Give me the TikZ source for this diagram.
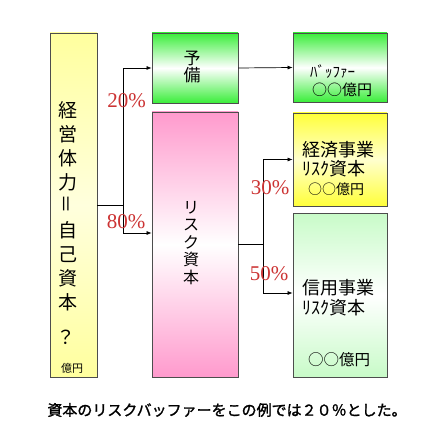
\documentclass[tikz,border=0pt]{standalone}
\usepackage{fontspec}
\usepackage{graphicx}
\usepackage{xcolor}
\usepackage{tikz}
\usetikzlibrary{arrows.meta}
\setmainfont{Liberation Serif}
\newfontfamily\jpfont{Noto Sans CJK JP}
\newfontfamily\jpcapfont[FakeBold=1.5]{Noto Sans CJK JP}
\definecolor{boxline}{HTML}{4D4D4D}
\definecolor{pctred}{HTML}{CC3333}
\definecolor{greentop}{HTML}{3AEE3A}
\definecolor{pinktop}{HTML}{FF9ACD}
\definecolor{yellowtop}{HTML}{FFFF3A}
\definecolor{paleyellow}{HTML}{FFFF9E}
\definecolor{palegreen}{HTML}{C8FBC8}

\tikzset{
  panel/.style={draw=boxline, line width=0.8pt, rectangle, inner sep=0pt},
  capitalfill/.style={top color=paleyellow, bottom color=paleyellow, middle color=paleyellow!35},
  greenfill/.style={top color=greentop, bottom color=greentop, middle color=white},
  pinkfill/.style={top color=pinktop, bottom color=pinktop, middle color=white},
  yellowfill/.style={top color=yellowtop, bottom color=yellowtop, middle color=yellowtop!25},
  lightgreenfill/.style={top color=palegreen, bottom color=palegreen, middle color=white},
  jp/.style={font=\jpfont\fontsize{#1}{#1}\selectfont, inner sep=0pt},
  vtext/.style={font=\jpfont\fontsize{#1}{#1}\selectfont, align=center, inner sep=0pt},
  pct/.style={text=pctred, font=\fontsize{21}{21}\selectfont, inner sep=0pt},
  link/.style={draw=black, line width=0.7pt},
  arrowlink/.style={link, -{Latex[length=5pt,width=4pt]}}
}

\begin{document}
\begin{tikzpicture}[x=1pt, y=-1pt]
        \fill[white] (0,0) rectangle (437,438);
        % Left: own capital
        \node[panel, capitalfill, minimum width=47, minimum height=344] (capital) at (73.5,205) {};
        \node[vtext=19, font=\jpfont\fontsize{19}{24}\selectfont] (capitaltxt) at (68,206)
            {経\\営\\体\\力\\\rotatebox{90}{＝}\\自\\己\\資\\本};
        \node[jp=19] (unknown) at (66,337) {？};
        \node[jp=11] (capitalunit) at (72,368) {億円};
        % Middle: reserve and risk capital
        \node[panel, greenfill, minimum width=86, minimum height=70] (reserve) at (195,68) {};
        \node[vtext=17] (reservetxt) at (192,67) {予\\備};
        \node[panel, pinkfill, minimum width=86, minimum height=265] (risk) at (195,244.5) {};
        \node[vtext=16, font=\jpfont\fontsize{16}{17.5}\selectfont] (risktxt) at (191,243) {リ\\ス\\ク\\資\\本};
        % Right: buffer
        \node[panel, greenfill, minimum width=94, minimum height=69] (buffer) at (340,67.5) {};
        \node[jp=15, anchor=west] (buffertxt) at (310,72) {ﾊﾞｯﾌｧｰ};
        \node[jp=15, anchor=west] (bufferamt) at (312,90) {○○億円};
        % Right: economic business
        \node[panel, yellowfill, minimum width=94, minimum height=93] (econ) at (340,159.5) {};
        \node[jp=18, anchor=west] (econtxt) at (302,149.5) {経済事業};
        \node[jp=18, anchor=west] (econrisk) at (302,169) {ﾘｽｸ資本};
        \node[jp=14, anchor=west] (econamt) at (308,189) {○○億円};
        % Right: credit business
        \node[panel, lightgreenfill, minimum width=94, minimum height=164] (credit) at (340,295) {};
        \node[jp=18, anchor=west] (credittxt) at (302,288) {信用事業};
        \node[jp=18, anchor=west] (creditrisk) at (302,308) {ﾘｽｸ資本};
        \node[jp=15.5, anchor=west] (creditamt) at (308,360) {○○億円};
        % Connectors
        \draw[link] (capital.east) -- ++(26,0) coordinate (fork1);
        \draw[arrowlink] (fork1) |- (reserve.west);
        \draw[arrowlink] (fork1) |- ([yshift=11.5pt]risk.west);
        \draw[arrowlink] (reserve.east) -- (buffer.west);
        \draw[link] (risk.east) -- ++(25,0) coordinate (fork2);
        \draw[arrowlink] (fork2) |- (econ.west);
        \draw[arrowlink] (fork2) |- ([yshift=2pt]credit.west);
        % Shares
        \node[pct] (share20) at (126.5,101) {20\%};
        \node[pct] (share80) at (126,222) {80\%};
        \node[pct] (share30) at (270,188) {30\%};
        \node[pct] (share50) at (269,274) {50\%};
        % Note
        \node[font=\jpcapfont\fontsize{15}{15}\selectfont, inner sep=0pt] (note) at (227,410)
            {資本のリスクバッファーをこの例では２０％とした。};
    \end{tikzpicture}
\end{document}
